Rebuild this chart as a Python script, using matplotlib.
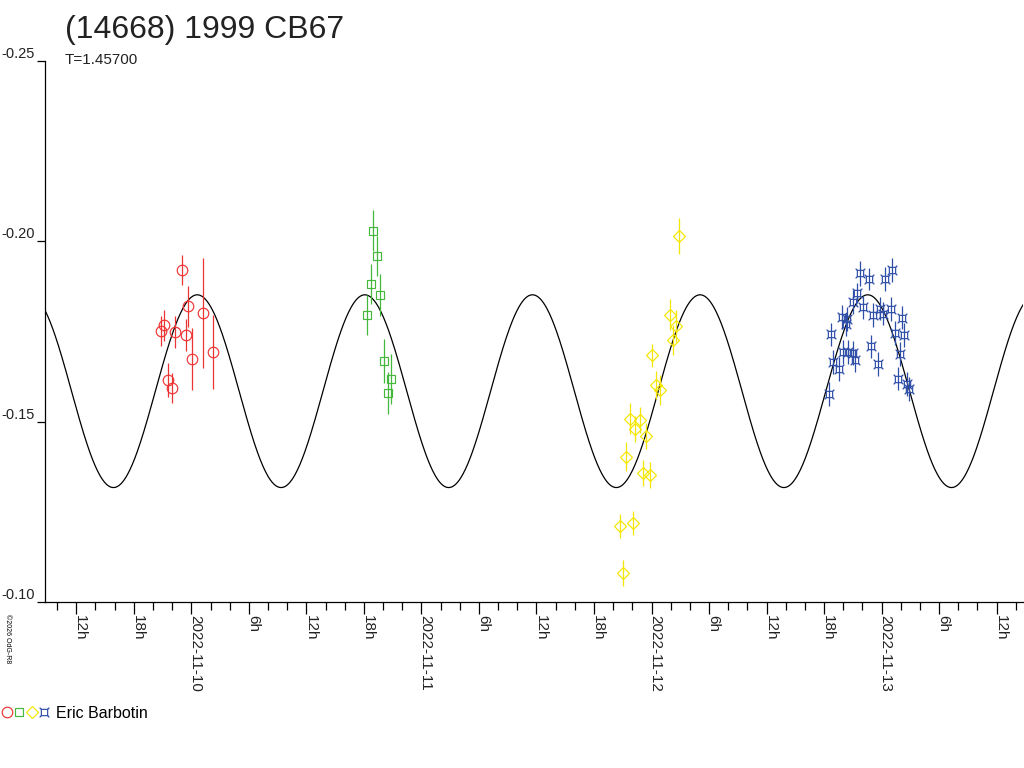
import matplotlib
matplotlib.use("Agg")
import matplotlib.pyplot as plt
import matplotlib.dates as mdates
from matplotlib.path import Path
from matplotlib.lines import Line2D
from matplotlib.legend_handler import HandlerTuple
from matplotlib.ticker import FixedLocator, FuncFormatter
import numpy as np
import pandas as pd

plt.rcParams["font.family"] = ["Liberation Sans", "DejaVu Sans"]
plt.rcParams["axes.unicode_minus"] = False

TITLE = "(14668) 1999 CB67"
PERIOD_TEXT = "T=1.45700"
OBSERVER = "Eric Barbotin"
COPYRIGHT = "\u00a92026 OdG-R8"

# session 1 - red circles
red_times = ["2022-11-09 23:00", "2022-11-09 23:41", "2022-11-10 01:15",
             "2022-11-09 21:11", "2022-11-09 20:49", "2022-11-09 22:20",
             "2022-11-09 23:25", "2022-11-10 02:18", "2022-11-10 00:06",
             "2022-11-09 21:36", "2022-11-09 22:01"]
red_mag = [-0.1919, -0.1819, -0.1801, -0.1766, -0.1751, -0.1747,
           -0.1739, -0.1692, -0.1673, -0.1614, -0.1593]
red_err = [0.0042, 0.0056, 0.0153, 0.0044, 0.0042, 0.0044,
           0.0044, 0.0103, 0.0086, 0.0047, 0.0042]

# session 2 - green squares
green_times = ["2022-11-10 18:59", "2022-11-10 19:20", "2022-11-10 18:43",
               "2022-11-10 19:39", "2022-11-10 18:21", "2022-11-10 20:04",
               "2022-11-10 20:48", "2022-11-10 20:29"]
green_mag = [-0.2029, -0.1959, -0.1881, -0.1851, -0.1795, -0.1667,
             -0.1618, -0.1579]
green_err = [0.0056, 0.0056, 0.0056, 0.0058, 0.0056, 0.0061, 0.0069, 0.0058]

# session 3 - yellow diamonds
yellow_times = ["2022-11-12 02:54", "2022-11-12 01:56", "2022-11-12 02:33",
                "2022-11-12 02:16", "2022-11-12 00:05", "2022-11-12 00:26",
                "2022-11-12 00:53", "2022-11-11 21:47", "2022-11-11 22:50",
                "2022-11-11 22:19", "2022-11-11 23:28", "2022-11-11 21:22",
                "2022-11-11 23:07", "2022-11-11 23:49", "2022-11-11 20:45",
                "2022-11-11 22:04", "2022-11-11 21:03"]
yellow_mag = [-0.2014, -0.1796, -0.1764, -0.1725, -0.1683, -0.1600,
              -0.1588, -0.1508, -0.1505, -0.1478, -0.1461, -0.1403,
              -0.1357, -0.1352, -0.1211, -0.1219, -0.1081]
yellow_err = [0.0050, 0.0042, 0.0044, 0.0042, 0.0033, 0.0039, 0.0042,
              0.0042, 0.0036, 0.0036, 0.0036, 0.0039, 0.0036, 0.0036,
              0.0033, 0.0033, 0.0036]

# session 4 - blue stars
blue_times = ["2022-11-12 21:45", "2022-11-12 22:41", "2022-11-13 01:07",
              "2022-11-13 00:21", "2022-11-12 21:28", "2022-11-12 21:03",
              "2022-11-12 22:05", "2022-11-12 19:50", "2022-11-12 20:22",
              "2022-11-12 20:15", "2022-11-12 23:08", "2022-11-12 23:50",
              "2022-11-13 00:11", "2022-11-13 00:57", "2022-11-13 02:10",
              "2022-11-12 18:43", "2022-11-13 01:24", "2022-11-13 02:22",
              "2022-11-12 22:53", "2022-11-12 20:00", "2022-11-12 20:32",
              "2022-11-12 20:59", "2022-11-12 21:13", "2022-11-13 01:55",
              "2022-11-12 18:58", "2022-11-12 19:35", "2022-11-12 23:39",
              "2022-11-13 01:41", "2022-11-13 02:41", "2022-11-13 02:53",
              "2022-11-12 18:32"]
blue_mag = [-0.1910, -0.1894, -0.1919, -0.1894, -0.1856, -0.1831,
            -0.1816, -0.1790, -0.1785, -0.1769, -0.1796, -0.1813,
            -0.1799, -0.1811, -0.1788, -0.1741, -0.1745, -0.1739,
            -0.1708, -0.1692, -0.1692, -0.1690, -0.1669, -0.1688,
            -0.1665, -0.1646, -0.1660, -0.1619, -0.1605, -0.1591,
            -0.1577]
blue_err = [0.0035, 0.0031, 0.0033, 0.0033, 0.0028, 0.0033, 0.0033,
            0.0033, 0.0033, 0.0031, 0.0033, 0.0033, 0.0033, 0.0033,
            0.0033, 0.0031, 0.0033, 0.0033, 0.0031, 0.0033, 0.0033,
            0.0033, 0.0033, 0.0033, 0.0033, 0.0033, 0.0033, 0.0033,
            0.0033, 0.0033, 0.0033]

# fitted model (double-peaked, period in days)
model_period = 1.457
model_epoch = "2022-11-10 00:37"
model_mean = -0.1584
model_amp = 0.0267

x_start = "2022-11-09 08:46"
x_end = "2022-11-13 14:45"
y_ticks = [-0.25, -0.20, -0.15, -0.10]

RED = "#ee3333"
GREEN = "#44b83a"
YELLOW = "#f4e600"
BLUE = "#2e4ea8"

PX = 0.72  # points per pixel at dpi 100

# square with little corner spikes, like the original blue symbol
_v = [(-0.4, -0.4), (0.4, -0.4), (0.4, 0.4), (-0.4, 0.4), (-0.4, -0.4),
      (-0.4, -0.4), (-0.62, -0.62), (0.4, -0.4), (0.62, -0.62),
      (0.4, 0.4), (0.62, 0.62), (-0.4, 0.4), (-0.62, 0.62)]
_c = [Path.MOVETO, Path.LINETO, Path.LINETO, Path.LINETO, Path.CLOSEPOLY,
      Path.MOVETO, Path.LINETO, Path.MOVETO, Path.LINETO,
      Path.MOVETO, Path.LINETO, Path.MOVETO, Path.LINETO]
star_marker = Path(_v, _c)

series = [
    (red_times, red_mag, red_err, RED, "o", 7.6),
    (green_times, green_mag, green_err, GREEN, "s", 5.8),
    (yellow_times, yellow_mag, yellow_err, YELLOW, "D", 6.4),
    (blue_times, blue_mag, blue_err, BLUE, star_marker, 7.0),
]

fig = plt.figure(figsize=(10.24, 7.68), dpi=100)
ax = fig.add_axes([45.3 / 1024, 166 / 768, (1023 - 45.3) / 1024, (602 - 60.5) / 768])

t0 = pd.Timestamp(x_start)
t1 = pd.Timestamp(x_end)
tt = pd.date_range(t0, t1, periods=1200)
phase = (tt - pd.Timestamp(model_epoch)) / pd.Timedelta(days=model_period)
model = model_mean - model_amp * np.cos(4 * np.pi * np.asarray(phase, dtype=float))
ax.plot(tt, model, color="black", lw=0.9, zorder=2)

handles = []
for times, mag, err, col, mk, ms in series:
    ax.errorbar(pd.to_datetime(times), mag, yerr=err, fmt="none", ecolor=col,
                elinewidth=0.9, capsize=0, zorder=3)
    ax.plot(pd.to_datetime(times), mag, linestyle="none", marker=mk, ms=ms,
            mfc="none", mec=col, mew=0.85, zorder=4)
    handles.append(Line2D([], [], linestyle="none", marker=mk, ms=ms,
                          mfc="none", mec=col, mew=0.85))

ax.set_xlim(t0, t1)
ax.set_ylim(-0.10, -0.25)

ax.spines["top"].set_visible(False)
ax.spines["right"].set_visible(False)
for s in ("left", "bottom"):
    ax.spines[s].set_linewidth(0.9)

ax.xaxis.set_major_locator(mdates.HourLocator(byhour=range(0, 24, 6)))
ax.xaxis.set_minor_locator(mdates.HourLocator(byhour=range(0, 24, 2)))


def hour_label(x, pos):
    d = mdates.num2date(x)
    if d.hour == 0:
        return d.strftime("%Y-%m-%d")
    return f"{d.hour}h"


ax.xaxis.set_major_formatter(FuncFormatter(hour_label))
ax.tick_params(axis="x", which="major", length=12 * PX, width=0.9,
               labelsize=11, pad=1, colors="black", labelcolor="#222222")
ax.tick_params(axis="x", which="minor", length=8 * PX, width=0.9)
ax.yaxis.set_major_locator(FixedLocator(y_ticks))
ax.yaxis.set_major_formatter(FuncFormatter(lambda v, p: f"{v:.2f}"))
ax.yaxis.set_minor_locator(FixedLocator([]))
ax.tick_params(axis="y", length=8 * PX, width=0.9, labelsize=10.5, pad=1.5,
               labelcolor="#222222")

for lab in ax.get_xticklabels():
    lab.set_rotation(-90)
    lab.set_rotation_mode("anchor")
    lab.set_ha("left")
    lab.set_va("baseline")
for lab in ax.get_yticklabels():
    lab.set_va("bottom")

fig.text(65 / 1024, 1 - 38 / 768, TITLE, fontsize=23, color="#222222", va="baseline")
fig.text(65 / 1024, 1 - 64 / 768, PERIOD_TEXT, fontsize=11, color="#222222", va="baseline")
fig.text(4 / 1024, 1 - 614 / 768, COPYRIGHT, fontsize=5, rotation=-90, va="top", ha="left")

fig.legend([tuple(handles)], [OBSERVER],
           handler_map={tuple: HandlerTuple(ndivide=None, pad=0.25)},
           loc="center left", bbox_to_anchor=(0.0, 1 - 713 / 768),
           frameon=False, handlelength=2.8, handletextpad=0.5,
           borderaxespad=0, borderpad=0.2, fontsize=11.5)

fig.savefig("out.png", dpi=100)
